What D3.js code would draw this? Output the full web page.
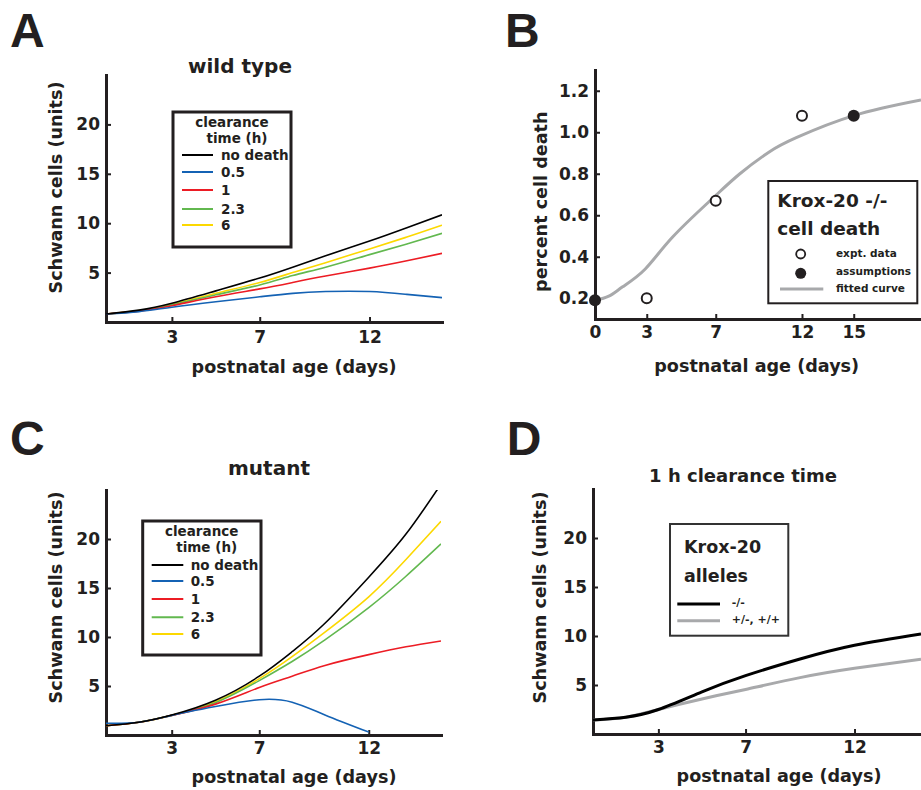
<!DOCTYPE html>
<html>
<head>
<meta charset="utf-8">
<script src="https://cdn.jsdelivr.net/npm/d3@7"></script>
<style>
  body { margin: 0; background: #fff; }
  svg text { font-family: "DejaVu Sans", sans-serif; font-weight: bold; fill: #231f20; }
</style>
</head>
<body>
<svg id="fig" width="921" height="790"></svg>
<script>
// ---- data ----
var simDays = [0, 1.5, 3, 5, 7, 8.5, 10, 12, 13.7, 15.3];

// A: wild type, by clearance time
var wtNoDeath = [0.81, 1.2, 1.9, 3.15, 4.45, 5.55, 6.7, 8.2, 9.55, 10.85];
var wt05      = [0.81, 1.05, 1.5, 2.05, 2.55, 2.9, 3.08, 3.08, 2.8, 2.47];
var wt1       = [0.81, 1.1, 1.65, 2.55, 3.35, 4.0, 4.65, 5.45, 6.2, 6.95];
var wt23      = [0.81, 1.12, 1.75, 2.75, 3.75, 4.7, 5.55, 6.82, 7.9, 8.97];
var wt6       = [0.81, 1.15, 1.8, 2.9, 4.0, 5.0, 6.0, 7.4, 8.6, 9.8];

// C: mutant, by clearance time
var mutNoDeath = [0.95, 1.3, 2.04, 3.55, 6.0, 8.5, 11.4, 16.1, 20.5, 25.6];
var mut05      = [1.2, 1.3, 2.0, 2.9, 3.6, 3.35, 2.05, 0.3, null, null];
var mut1       = [0.95, 1.3, 2.0, 3.15, 4.85, 6.0, 7.1, 8.2, 9.0, 9.6];
var mut23      = [0.95, 1.3, 2.0, 3.3, 5.55, 7.5, 9.7, 13.0, 16.2, 19.5];
var mut6       = [0.95, 1.3, 2.0, 3.4, 5.75, 8.0, 10.5, 14.1, 17.9, 21.8];

var clearanceLabels = ["no death", "0.5", "1", "2.3", "6"];
var clearanceColors = ["#000000", "#1462b4", "#ec1c24", "#62b84f", "#fcd800"];

// B: Krox-20 -/- cell death
var fitDays = [0, 0.8, 1.6, 2.9, 4.5, 6.8, 8.4, 10.1, 11.7, 15, 18.9];
var fitVals = [0.19, 0.21, 0.255, 0.34, 0.495, 0.68, 0.8, 0.905, 0.975, 1.08, 1.155];
var exptDays = [3, 7, 12];
var exptVals = [0.2, 0.67, 1.08];
var assumeDays = [0, 15];
var assumeVals = [0.19, 1.08];

// D: 1 h clearance time, by allele
var dDays = [0, 1.5, 3, 5, 7, 9.5, 12, 15.05];
var koVals = [1.43, 1.72, 2.5, 4.3, 5.95, 7.65, 9.05, 10.2];
var hetVals = [1.43, 1.72, 2.5, 3.58, 4.55, 5.75, 6.7, 7.62];

var ink = "#231f20";
var svg = d3.select("#fig");

// axes for one panel, returns scales
function panel(p) {
  var x = d3.scaleLinear().domain(p.xDomain).range([p.left, p.right]);
  var y = d3.scaleLinear().domain(p.yDomain).range([p.bottom, p.top]);
  var g = svg.append("g");

  g.append("clipPath").attr("id", p.id)
    .append("rect")
    .attr("x", p.left).attr("y", p.top)
    .attr("width", p.right - p.left).attr("height", p.bottom - p.top);

  var xa = g.append("g")
    .attr("transform", "translate(0," + p.bottom + ")")
    .attr("color", ink)
    .call(d3.axisBottom(x).tickValues(p.xTicks).tickSizeInner(-5).tickSizeOuter(0).tickPadding(p.xPad || 7));
  var ya = g.append("g")
    .attr("transform", "translate(" + p.left + ",0)")
    .attr("color", ink)
    .call(d3.axisLeft(y).tickValues(p.yTicks).tickSizeInner(-5).tickSizeOuter(0).tickPadding(6)
      .tickFormat(p.yFormat || d3.format("d")));
  [xa, ya].forEach(function(a) {
    a.select(".domain").attr("stroke-width", 3).attr("stroke-linecap", "square");
    a.selectAll(".tick line").attr("stroke-width", 2);
    a.selectAll(".tick text").style("font-size", "17px");
  });

  g.append("text")
    .attr("x", p.xLabel[0]).attr("y", p.xLabel[1])
    .attr("text-anchor", "middle").style("font-size", "17.6px")
    .text("postnatal age (days)");
  g.append("text")
    .attr("transform", "translate(" + p.yLabel[0] + "," + p.yLabel[1] + ") rotate(-90)")
    .attr("text-anchor", "middle").style("font-size", "17.6px")
    .text(p.yText);
  if (p.title) {
    g.append("text")
      .attr("x", p.title[0]).attr("y", p.title[1])
      .attr("text-anchor", "middle").style("font-size", p.title[3] + "px")
      .text(p.title[2]);
  }
  svg.append("text")
    .attr("x", p.letter[0]).attr("y", p.letter[1])
    .style("font-family", "'Liberation Sans', Arial, sans-serif")
    .style("font-size", "48px")
    .text(p.letter[2]);

  return {x: x, y: y, g: g};
}

function drawLine(P, clipId, days, vals, color, width) {
  var line = d3.line()
    .defined(function(d) { return d[1] !== null; })
    .x(function(d) { return P.x(d[0]); })
    .y(function(d) { return P.y(d[1]); })
    .curve(d3.curveNatural);
  P.g.append("path")
    .datum(days.map(function(d, i) { return [d, vals[i]]; }))
    .attr("clip-path", "url(#" + clipId + ")")
    .attr("fill", "none")
    .attr("stroke", color)
    .attr("stroke-width", width)
    .attr("d", line);
}

function clearanceLegend(L) {
  var g = svg.append("g");
  g.append("rect")
    .attr("x", L.x).attr("y", L.y).attr("width", L.w).attr("height", L.h)
    .attr("fill", "#fff").attr("stroke", ink).attr("stroke-width", 3);
  g.append("text").attr("x", L.tx).attr("y", L.ty[0]).attr("text-anchor", "middle")
    .style("font-size", "13.5px").text("clearance");
  g.append("text").attr("x", L.tx + 5).attr("y", L.ty[1]).attr("text-anchor", "middle")
    .style("font-size", "13.5px").text("time (h)");
  clearanceLabels.forEach(function(lab, i) {
    g.append("line")
      .attr("x1", L.lx[0]).attr("x2", L.lx[1]).attr("y1", L.rows[i]).attr("y2", L.rows[i])
      .attr("stroke", clearanceColors[i]).attr("stroke-width", 2);
    g.append("text").attr("x", L.labx).attr("y", L.rows[i] + 5)
      .style("font-size", "13.5px").text(lab);
  });
}

// ---- A: wild type ----
var A = panel({
  id: "clipA", left: 106, right: 442, top: 75, bottom: 322,
  xDomain: [0, 15.3], yDomain: [0, 25], xTicks: [3, 7, 12], yTicks: [5, 10, 15, 20], xPad: 9,
  xLabel: [294, 373], yLabel: [61.5, 187.5], yText: "Schwann cells (units)",
  title: [240, 73, "wild type", 20], letter: [10, 47, "A"]
});
[wtNoDeath, wt05, wt1, wt23, wt6].slice().reverse().forEach(function(s, i) {
  var k = 4 - i;
  drawLine(A, "clipA", simDays, s, clearanceColors[k], 1.6);
});
clearanceLegend({x: 173, y: 112, w: 118, h: 135, tx: 232, ty: [127, 143],
  lx: [182, 213], labx: 221, rows: [155, 172, 190, 209, 225]});

// ---- C: mutant ----
var C = panel({
  id: "clipC", left: 106, right: 441, top: 490, bottom: 735,
  xDomain: [0, 15.3], yDomain: [0, 25], xTicks: [3, 7, 12], yTicks: [5, 10, 15, 20],
  xLabel: [294, 783], yLabel: [61.5, 597.5], yText: "Schwann cells (units)",
  title: [269, 475, "mutant", 20], letter: [10, 455, "C"]
});
[mutNoDeath, mut05, mut1, mut23, mut6].slice().reverse().forEach(function(s, i) {
  var k = 4 - i;
  drawLine(C, "clipC", simDays, s, clearanceColors[k], 1.6);
});
clearanceLegend({x: 142.7, y: 521, w: 118.3, h: 134, tx: 201.7, ty: [535.7, 552.3],
  lx: [151.7, 183.3], labx: 190.7, rows: [565, 581, 599, 617.3, 634]});

// ---- B: cell death ----
var B = panel({
  id: "clipB", left: 595, right: 921, top: 70, bottom: 319,
  xDomain: [0, 18.9], yDomain: [0.1, 1.3], xTicks: [0, 3, 7, 12, 15], yTicks: [0.2, 0.4, 0.6, 0.8, 1.0, 1.2],
  yFormat: d3.format(".1f"),
  xLabel: [756.7, 372], yLabel: [547, 201.7], yText: "percent cell death",
  letter: [505, 47, "B"]
});
drawLine(B, "clipB", fitDays, fitVals, "#a8a9ab", 3);
B.g.selectAll("circle.expt")
  .data(exptDays.map(function(d, i) { return [d, exptVals[i]]; }))
  .enter().append("circle")
  .attr("cx", function(d) { return B.x(d[0]); })
  .attr("cy", function(d) { return B.y(d[1]); })
  .attr("r", 5).attr("fill", "#fff").attr("stroke", ink).attr("stroke-width", 2);
B.g.selectAll("circle.assume")
  .data(assumeDays.map(function(d, i) { return [d, assumeVals[i]]; }))
  .enter().append("circle")
  .attr("cx", function(d) { return B.x(d[0]); })
  .attr("cy", function(d) { return B.y(d[1]); })
  .attr("r", 6).attr("fill", ink);

var lb = svg.append("g");
lb.append("rect").attr("x", 768.3).attr("y", 181).attr("width", 149).attr("height", 122.3)
  .attr("fill", "#fff").attr("stroke", ink).attr("stroke-width", 2);
lb.append("text").attr("x", 777.3).attr("y", 206.7).style("font-size", "18.5px").text("Krox-20 -/-");
lb.append("text").attr("x", 777.3).attr("y", 235).style("font-size", "18.5px").text("cell death");
lb.append("circle").attr("cx", 800.7).attr("cy", 254).attr("r", 4.5)
  .attr("fill", "#fff").attr("stroke", ink).attr("stroke-width", 1.8);
lb.append("circle").attr("cx", 800.7).attr("cy", 273.3).attr("r", 5.5).attr("fill", ink);
lb.append("line").attr("x1", 780).attr("x2", 823.3).attr("y1", 289).attr("y2", 289)
  .attr("stroke", "#a8a9ab").attr("stroke-width", 3);
lb.append("text").attr("x", 836).attr("y", 257).style("font-size", "10.5px").text("expt. data");
lb.append("text").attr("x", 836).attr("y", 275).style("font-size", "10.5px").text("assumptions");
lb.append("text").attr("x", 836).attr("y", 292).style("font-size", "10.5px").text("fitted curve");

// ---- D: 1 h clearance ----
var D = panel({
  id: "clipD", left: 593, right: 921, top: 489, bottom: 734,
  xDomain: [0, 15.05], yDomain: [0, 25], xTicks: [3, 7, 12], yTicks: [5, 10, 15, 20],
  xLabel: [779, 782], yLabel: [546, 597.5], yText: "Schwann cells (units)",
  title: [743, 482, "1 h clearance time", 18], letter: [506.7, 455, "D"]
});
drawLine(D, "clipD", dDays, hetVals, "#a8a9ab", 3);
drawLine(D, "clipD", dDays, koVals, "#000", 3);

var ld = svg.append("g");
ld.append("rect").attr("x", 670).attr("y", 524).attr("width", 118.3).attr("height", 111.7)
  .attr("fill", "#fff").attr("stroke", "#333").attr("stroke-width", 2);
ld.append("text").attr("x", 684).attr("y", 553.3).style("font-size", "17.5px").text("Krox-20");
ld.append("text").attr("x", 684).attr("y", 581.7).style("font-size", "17.5px").text("alleles");
ld.append("line").attr("x1", 677.3).attr("x2", 720).attr("y1", 604).attr("y2", 604)
  .attr("stroke", "#000").attr("stroke-width", 3);
ld.append("line").attr("x1", 677.3).attr("x2", 720).attr("y1", 620.7).attr("y2", 620.7)
  .attr("stroke", "#a8a9ab").attr("stroke-width", 3);
ld.append("text").attr("x", 731.7).attr("y", 606).style("font-size", "11px").text("-/-");
ld.append("text").attr("x", 731.7).attr("y", 623).style("font-size", "11px").text("+/-, +/+");
</script>
</body>
</html>
